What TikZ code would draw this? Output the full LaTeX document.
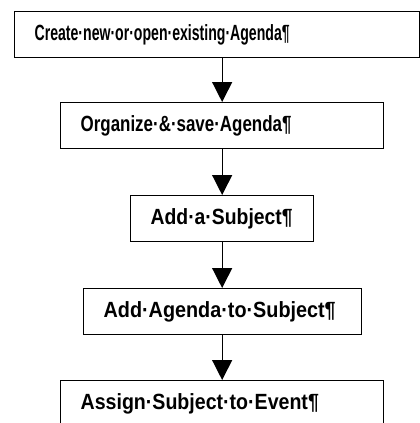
\documentclass[tikz,border=0pt]{standalone}
\usepackage{fontspec}
\setmainfont{Liberation Sans}
\usetikzlibrary{arrows.meta}
\newcommand{\sx}[2]{\scalebox{#1}[1]{#2}}
\begin{document}
\begin{tikzpicture}[
  x=1pt, y=-1pt,
  box/.style={draw, line width=1.3pt, anchor=north west, align=left,
    inner xsep=20pt, inner ysep=0pt, minimum height=46pt,
    font=\fontsize{22}{24}\selectfont\bfseries},
  flow/.style={line width=1.3pt, -{Triangle[width=20pt,length=20pt]}}
]
\useasboundingbox (0,0) rectangle (420,423);
\clip (0,0) rectangle (420,423);
\node[box, text width=365pt] (create) at (14,11) {\sx{0.64}{Create·new·or·open·existing·Agenda¶}};
\node[box, text width=283pt] (organize) at (60,102) {\sx{0.77}{Organize·\&·save·Agenda¶}};
\node[box, text width=143pt] (subject) at (130,195) {\sx{0.88}{Add·a·Subject¶}};
\node[box, text width=238pt] (agenda) at (83,288) {\sx{0.90}{Add·Agenda·to·Subject¶}};
\node[box, text width=283pt] (event) at (60,380) {\sx{0.89}{Assign·Subject·to·Event¶}};
\draw[flow] (create.south -| organize.north) -- (organize.north);
\draw[flow] (organize.south) -- (subject.north);
\draw[flow] (subject.south) -- (agenda.north -| subject.south);
\draw[flow] (agenda.south -| subject.south) -- (event.north -| subject.south);
\end{tikzpicture}
\end{document}
